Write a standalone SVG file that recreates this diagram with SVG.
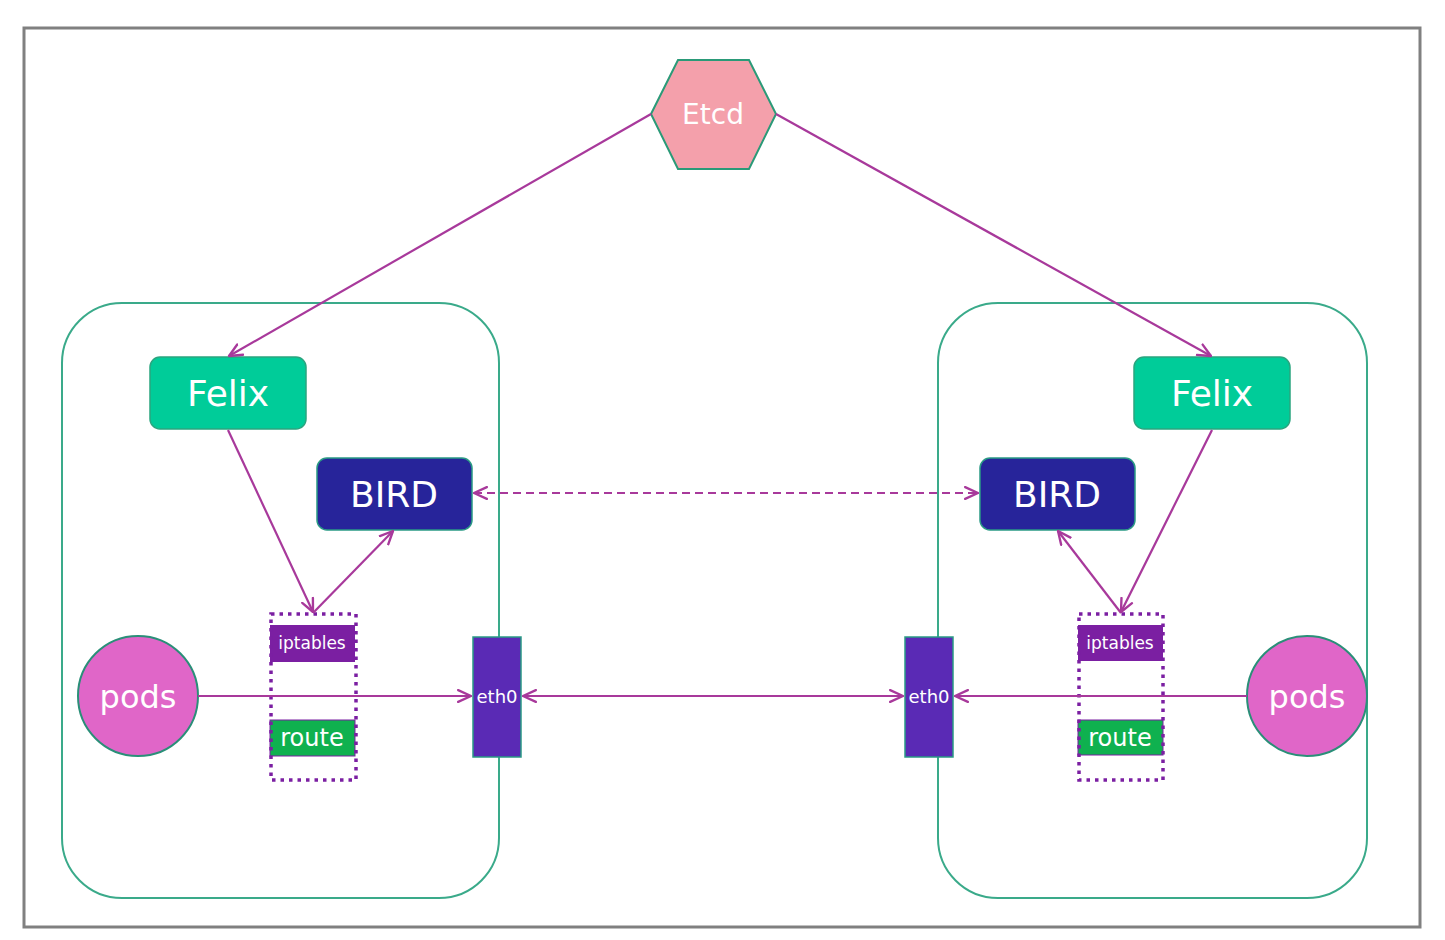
<svg xmlns="http://www.w3.org/2000/svg" width="1445" height="940" viewBox="0 0 1445 940">
<defs>
<marker id="arr" viewBox="0 0 14 14" refX="13" refY="7" markerWidth="15" markerHeight="15" markerUnits="userSpaceOnUse" orient="auto-start-reverse">
<path d="M1,1.5 L13,7 L1,12.5" fill="none" stroke="#a8399b" stroke-width="2.2" stroke-linejoin="round" stroke-linecap="round"/>
</marker>
<style>
.t{font-family:"DejaVu Sans","Liberation Sans",sans-serif;text-anchor:middle;dominant-baseline:central;fill:#ffffff}
.c{fill:none;stroke:#a8399b;stroke-width:2.2}
.host{fill:none;stroke:#3aaa8a;stroke-width:2}
.felix{fill:#00cc99;stroke:#2aa57f;stroke-width:1.5}
.bird{fill:#27249a;stroke:#2a9a85;stroke-width:1.5}
.ipt{fill:#7b1fa2}
.rt{fill:#0fb14f;stroke:#7b1fa2;stroke-width:1}
.eth{fill:#5a2ab5;stroke:#2a9a85;stroke-width:1.5}
.dot{fill:none;stroke:#7b1fa2;stroke-width:3.5;stroke-dasharray:3.5 5}
.pods{fill:#e066c8;stroke:#2a8f78;stroke-width:2}
</style>
</defs>
<rect x="0" y="0" width="1445" height="940" fill="#ffffff"/>
<rect x="24" y="28" width="1396" height="899" fill="#ffffff" stroke="#808080" stroke-width="3"/>

<g id="host-left"><rect class="host" x="62" y="303" width="437" height="595" rx="60"/></g>
<g id="host-right"><rect class="host" x="938" y="303" width="429" height="595" rx="60"/></g>

<g id="etcd">
<polygon points="651,114 678,60 749,60 776,114 749,169 678,169" fill="#f4a0ab" stroke="#2a9a78" stroke-width="2"/>
<text class="t" x="713" y="114" font-size="28" fill="#fff5f7">Etcd</text>
</g>

<g id="felix-left"><rect class="felix" x="150" y="357" width="156" height="72" rx="10"/><text class="t" x="228" y="393" font-size="36">Felix</text></g>
<g id="felix-right"><rect class="felix" x="1134" y="357" width="156" height="72" rx="10"/><text class="t" x="1212" y="393" font-size="36">Felix</text></g>

<g id="bird-left"><rect class="bird" x="317" y="458" width="155" height="72" rx="10"/><text class="t" x="394" y="494" font-size="36" fill="#eeeeff">BIRD</text></g>
<g id="bird-right"><rect class="bird" x="980" y="458" width="155" height="72" rx="10"/><text class="t" x="1057" y="494" font-size="36" fill="#eeeeff">BIRD</text></g>

<g id="pods-left"><circle class="pods" cx="138" cy="696" r="60"/><text class="t" x="138" y="697" font-size="32" fill="#fff0fa">pods</text></g>
<g id="pods-right"><circle class="pods" cx="1307" cy="696" r="60"/><text class="t" x="1307" y="697" font-size="32" fill="#fff0fa">pods</text></g>

<g id="iptables-left">
<rect class="ipt" x="270" y="625" width="85" height="37"/>
<text class="t" x="312" y="643" font-size="17" fill="#f0e0f5">iptables</text>
<rect class="rt" x="270" y="720" width="85" height="36"/>
<text class="t" x="312" y="738" font-size="24" fill="#effae0">route</text>
<rect class="dot" x="271" y="614" width="85" height="166"/>
</g>
<g id="iptables-right">
<rect class="ipt" x="1078" y="625" width="85" height="36"/>
<text class="t" x="1120" y="643" font-size="17" fill="#f0e0f5">iptables</text>
<rect class="rt" x="1078" y="720" width="85" height="35"/>
<text class="t" x="1120" y="738" font-size="24" fill="#effae0">route</text>
<rect class="dot" x="1079" y="614" width="84" height="166"/>
</g>

<g id="eth0-left"><rect class="eth" x="473" y="637" width="48" height="120"/><text class="t" x="497" y="696" font-size="18" fill="#eee8ff">eth0</text></g>
<g id="eth0-right"><rect class="eth" x="905" y="637" width="48" height="120"/><text class="t" x="929" y="696" font-size="18" fill="#eee8ff">eth0</text></g>

<g id="connectors">
<line class="c" x1="651" y1="114" x2="229" y2="356" marker-end="url(#arr)"/>
<line class="c" x1="776" y1="114" x2="1211" y2="356" marker-end="url(#arr)"/>
<line class="c" x1="228" y1="430" x2="313" y2="612" marker-end="url(#arr)"/>
<line class="c" x1="313" y1="613" x2="393" y2="531" marker-end="url(#arr)"/>
<line class="c" x1="1212" y1="430" x2="1121" y2="612" marker-end="url(#arr)"/>
<line class="c" x1="1121" y1="613" x2="1058" y2="531" marker-end="url(#arr)"/>
<line class="c" x1="474" y1="493" x2="978" y2="493" stroke-dasharray="8 5" marker-start="url(#arr)" marker-end="url(#arr)"/>
<line class="c" x1="198" y1="696" x2="471" y2="696" marker-end="url(#arr)"/>
<line class="c" x1="523" y1="696" x2="903" y2="696" marker-start="url(#arr)" marker-end="url(#arr)"/>
<line class="c" x1="1247" y1="696" x2="955" y2="696" marker-end="url(#arr)"/>
</g>
</svg>
